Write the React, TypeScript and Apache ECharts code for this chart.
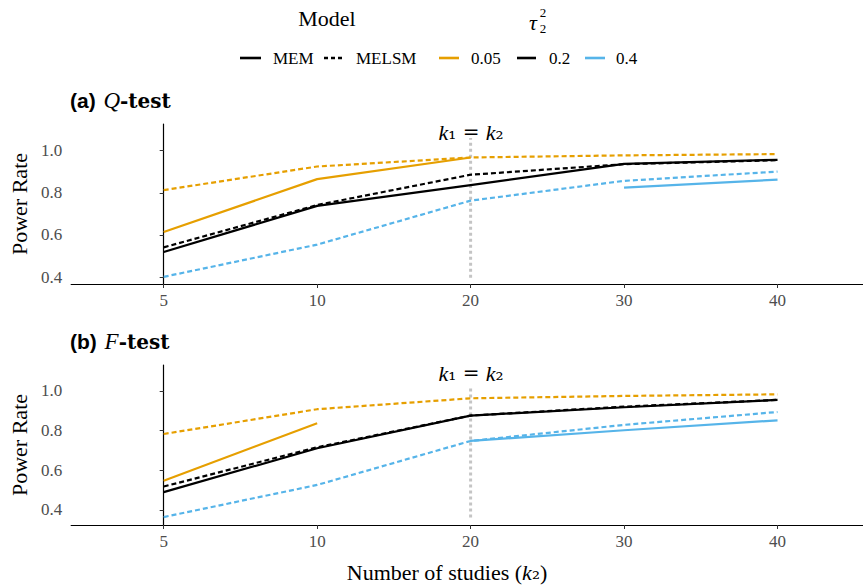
import React, { useEffect, useRef } from 'react';
import * as echarts from 'echarts';

// ---------- data ----------
const categories = ['5', '10', '20', '30', '40'];
const yTickValues = [0.4, 0.6, 0.8, 1.0];
const modelLabels = ['MEM', 'MELSM'];
const tauLabels = ['0.05', '0.2', '0.4'];
const tauColors = ['#E69F00', '#000000', '#56B4E9'];

// (a) Q-test
const qMEM005 = [0.614, 0.865, 0.968, null, null];
const qMELSM005 = [0.813, 0.925, 0.968, 0.978, 0.984];
const qMEM02 = [0.519, 0.738, 0.837, 0.938, 0.957];
const qMELSM02 = [0.541, 0.742, 0.886, 0.936, 0.955];
const qMEM04 = [null, null, null, 0.825, 0.863];
const qMELSM04 = [0.401, 0.554, 0.763, 0.857, 0.901];

// (b) F-test
const fMEM005 = [0.547, 0.837, null, null, null];
const fMELSM005 = [0.783, 0.908, 0.963, 0.975, 0.983];
const fMEM02 = [0.49, 0.711, 0.876, 0.918, 0.955];
const fMELSM02 = [0.518, 0.716, 0.876, 0.921, 0.955];
const fMEM04 = [null, null, 0.748, 0.802, 0.852];
const fMELSM04 = [0.364, 0.526, 0.748, 0.829, 0.894];

const vlineCategory = '20';
const qVline = [0.397, 1.06];
const fVline = [0.362, 1.025];

const SERIF = 'Liberation Serif';
const DSERIF = 'DejaVu Serif';
const SANS = 'Liberation Sans';

function toPairs(values: (number | null)[]) {
  const out: number[][] = [];
  values.forEach((v, i) => {
    if (v !== null && v !== undefined) out.push([i, v]);
  });
  return out;
}

function lineSeries(name: string, values: (number | null)[], color: string, dashed: boolean, axis: number) {
  return {
    type: 'line',
    name,
    xAxisIndex: axis,
    yAxisIndex: axis,
    data: toPairs(values),
    showSymbol: false,
    symbol: 'none',
    silent: true,
    z: dashed ? 3 : 2,
    itemStyle: { color },
    lineStyle: { color, width: 2.2, type: dashed ? [5, 3] : 'solid', cap: 'butt' },
  };
}

function vlineSeries(range: number[], axis: number) {
  const idx = categories.indexOf(vlineCategory);
  return {
    type: 'line',
    name: 'vline' + axis,
    xAxisIndex: axis,
    yAxisIndex: axis,
    data: [[idx, range[0]], [idx, range[1]]],
    showSymbol: false,
    symbol: 'none',
    silent: true,
    z: 1,
    lineStyle: { color: '#c4c4c4', width: 3, type: [3, 3] },
  };
}

function xAxisDef(grid: number) {
  return {
    type: 'value',
    gridIndex: grid,
    min: -0.603,
    max: 4.557,
    splitLine: { show: false },
    axisLine: { show: true, lineStyle: { color: '#000', width: 1.2 } },
    axisTick: { show: true, customValues: [0, 1, 2, 3, 4], length: 4, lineStyle: { color: '#333' } },
    axisLabel: {
      customValues: [0, 1, 2, 3, 4],
      formatter: (v: number) => categories[Math.round(v)] ?? '',
      color: '#4d4d4d',
      fontFamily: SERIF,
      fontSize: 17,
      margin: 8,
    },
  };
}

function yAxisDef(grid: number, min: number, max: number) {
  return {
    type: 'value',
    gridIndex: grid,
    min,
    max,
    name: 'Power Rate',
    nameLocation: 'middle',
    nameGap: 38,
    nameTextStyle: { fontFamily: SERIF, fontSize: 22, color: '#000' },
    splitLine: { show: false },
    axisLine: { show: true, lineStyle: { color: '#000', width: 1.2 } },
    axisTick: { show: true, customValues: yTickValues, length: 4, lineStyle: { color: '#333' } },
    axisLabel: {
      customValues: yTickValues,
      formatter: (v: number) => v.toFixed(1),
      color: '#4d4d4d',
      fontFamily: SERIF,
      fontSize: 17,
      margin: 9,
    },
  };
}

function panelTitle(letter: string, test: string, top: number) {
  return {
    type: 'text',
    left: 70,
    top,
    style: {
      text: `{a|(${letter})}{sp|  }{q|${test}}{t|-test}`,
      rich: {
        a: { fontFamily: SANS, fontWeight: 'bold', fontSize: 21, fill: '#000' },
        sp: { fontSize: 14 },
        q: { fontFamily: SERIF, fontStyle: 'italic', fontSize: 23, fill: '#000' },
        t: { fontFamily: DSERIF, fontWeight: 'bold', fontSize: 20, fill: '#000' },
      },
    },
  };
}

function kLabel(y: number) {
  return {
    type: 'text',
    x: 471,
    y,
    style: {
      text: '{i|k}{n|\u2081 = }{i|k}{n|\u2082}',
      align: 'center',
      verticalAlign: 'middle',
      rich: {
        i: { fontFamily: SERIF, fontStyle: 'italic', fontSize: 22, fill: '#000' },
        n: { fontFamily: DSERIF, fontSize: 20, fill: '#000' },
      },
    },
  };
}

function legendGraphics() {
  const els: any[] = [];
  const ly = 58;
  els.push({ type: 'text', x: 327, y: 18, style: { text: 'Model', align: 'center', verticalAlign: 'middle', fontFamily: SERIF, fontSize: 22, fill: '#000' } });
  els.push({ type: 'text', x: 533, y: 22, style: { text: '\u03c4', align: 'center', verticalAlign: 'middle', fontFamily: SERIF, fontStyle: 'italic', fontSize: 22, fill: '#000' } });
  els.push({ type: 'text', x: 543, y: 12, style: { text: '2', align: 'center', verticalAlign: 'middle', fontFamily: SERIF, fontSize: 13, fill: '#000' } });
  els.push({ type: 'text', x: 543, y: 28, style: { text: '2', align: 'center', verticalAlign: 'middle', fontFamily: SERIF, fontSize: 13, fill: '#000' } });
  const modelKeys = [
    { x1: 240, x2: 261, tx: 273, dashed: false },
    { x1: 324, x2: 344, tx: 356, dashed: true },
  ];
  modelKeys.forEach((k, i) => {
    els.push({ type: 'line', shape: { x1: k.x1, y1: ly, x2: k.x2, y2: ly }, style: { stroke: '#000', lineWidth: 2.6, lineDash: k.dashed ? [4, 3] : null } });
    els.push({ type: 'text', x: k.tx, y: ly, style: { text: modelLabels[i], verticalAlign: 'middle', fontFamily: SERIF, fontSize: 17, fill: '#000' } });
  });
  const tauKeys = [
    { x1: 439, x2: 459, tx: 471 },
    { x1: 517, x2: 536, tx: 549 },
    { x1: 585, x2: 605, tx: 616 },
  ];
  tauKeys.forEach((k, i) => {
    els.push({ type: 'line', shape: { x1: k.x1, y1: ly, x2: k.x2, y2: ly }, style: { stroke: tauColors[i], lineWidth: 2.6 } });
    els.push({ type: 'text', x: k.tx, y: ly, style: { text: tauLabels[i], verticalAlign: 'middle', fontFamily: SERIF, fontSize: 17, fill: '#000' } });
  });
  return els;
}

export default function App() {
  const ref = useRef<HTMLDivElement>(null);
  useEffect(() => {
    if (!ref.current) return;
    const chart = echarts.init(ref.current, undefined, { renderer: 'svg' });
    const option = {
      animation: false,
      backgroundColor: '#ffffff',
      textStyle: { fontFamily: SERIF },
      grid: [
        { left: 67, right: 0, top: 124, height: 160 },
        { left: 67, right: 0, top: 365, height: 160 },
      ],
      xAxis: [xAxisDef(0), xAxisDef(1)],
      yAxis: [yAxisDef(0, 0.367, 1.127), yAxisDef(1, 0.324, 1.131)],
      series: [
        vlineSeries(qVline, 0),
        lineSeries('MEM 0.05', qMEM005, tauColors[0], false, 0),
        lineSeries('MELSM 0.05', qMELSM005, tauColors[0], true, 0),
        lineSeries('MEM 0.2', qMEM02, tauColors[1], false, 0),
        lineSeries('MELSM 0.2', qMELSM02, tauColors[1], true, 0),
        lineSeries('MEM 0.4', qMEM04, tauColors[2], false, 0),
        lineSeries('MELSM 0.4', qMELSM04, tauColors[2], true, 0),
        vlineSeries(fVline, 1),
        lineSeries('MEM 0.05 F', fMEM005, tauColors[0], false, 1),
        lineSeries('MELSM 0.05 F', fMELSM005, tauColors[0], true, 1),
        lineSeries('MEM 0.2 F', fMEM02, tauColors[1], false, 1),
        lineSeries('MELSM 0.2 F', fMELSM02, tauColors[1], true, 1),
        lineSeries('MEM 0.4 F', fMEM04, tauColors[2], false, 1),
        lineSeries('MELSM 0.4 F', fMELSM04, tauColors[2], true, 1),
      ],
      graphic: [
        ...legendGraphics(),
        panelTitle('a', 'Q', 89),
        panelTitle('b', 'F', 330),
        kLabel(132),
        kLabel(373),
        {
          type: 'text',
          x: 447,
          y: 572,
          style: {
            text: 'Number of studies ({i|k}{s|\u2082})',
            align: 'center',
            verticalAlign: 'middle',
            fontFamily: SERIF,
            fontSize: 22,
            fill: '#000',
            rich: {
              i: { fontFamily: SERIF, fontStyle: 'italic', fontSize: 22, fill: '#000' },
              s: { fontFamily: DSERIF, fontSize: 20, fill: '#000' },
            },
          },
        },
      ],
    };
    chart.setOption(option as any);
    return () => chart.dispose();
  }, []);
  return <div ref={ref} style={{ position: 'fixed', left: 0, top: 0, width: 863, height: 587 }} />;
}
